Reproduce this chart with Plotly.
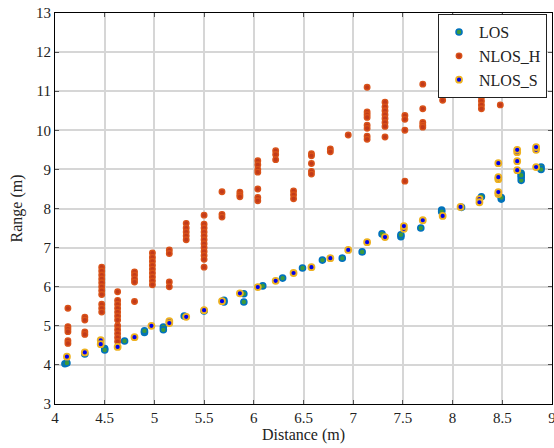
import plotly.graph_objects as go

# LOS
los_x = [4.10, 4.12, 4.30, 4.50, 4.50, 4.70, 4.90, 4.90, 5.09, 5.09, 5.30, 5.50, 5.70, 5.70,
         5.90, 5.90, 6.09, 6.29, 6.49, 6.69, 6.89, 7.09, 7.29, 7.48, 7.48, 7.68, 7.89, 7.89,
         8.09, 8.29, 8.49, 8.49, 8.69, 8.69, 8.69, 8.69, 8.89, 8.89]
los_y = [4.03, 4.05, 4.28, 4.42, 4.38, 4.61, 4.83, 4.87, 4.97, 4.90, 5.25, 5.38, 5.61, 5.65,
         5.82, 5.61, 6.02, 6.22, 6.48, 6.68, 6.73, 6.89, 7.35, 7.28, 7.33, 7.50, 7.96, 7.92,
         8.03, 8.30, 8.24, 8.28, 8.90, 8.80, 8.72, 8.85, 9.06, 9.00]

# NLOS_H
nlosh_x = ([4.13] * 6 + [4.30] * 4 + [4.47] * 11 + [4.63] * 12 + [4.80] * 5 + [4.98] * 9 +
           [5.15] * 4 + [5.32] * 5 + [5.50] * 12 + [5.68] * 3 + [5.86] * 3 + [6.04] * 7 +
           [6.22] * 3 + [6.40] * 3 + [6.58] * 5 + [6.77] * 2 + [6.95] * 1 + [7.14] * 8 +
           [7.32] * 8 + [7.52] * 4 + [7.70] * 5 + [7.90] * 4 + [8.29] * 7 + [8.48] * 3 + [8.87] * 1)
nlosh_y = ([5.45, 4.98, 4.92, 4.85, 4.62, 4.55] +
           [5.22, 5.15, 4.84, 4.78] +
           [6.50, 6.40, 6.30, 6.20, 6.10, 6.00, 5.90, 5.80, 5.55, 5.45, 5.35] +
           [5.87, 5.65, 5.55, 5.45, 5.35, 5.25, 5.15, 5.00, 4.90, 4.80, 4.70, 4.60] +
           [6.38, 6.30, 6.20, 6.12, 5.62] +
           [6.86, 6.75, 6.65, 6.55, 6.45, 6.35, 6.25, 6.15, 6.05] +
           [6.94, 6.85, 6.12, 6.00] +
           [7.62, 7.50, 7.40, 7.30, 7.20] +
           [7.83, 7.60, 7.50, 7.40, 7.30, 7.20, 7.10, 7.00, 6.90, 6.80, 6.70, 6.50] +
           [8.43, 7.85, 7.78] +
           [8.42, 8.35, 8.30] +
           [9.22, 9.12, 9.00, 8.93, 8.50, 8.28, 8.20] +
           [9.48, 9.38, 9.25] +
           [8.45, 8.35, 8.25] +
           [9.40, 9.35, 9.15, 8.95, 8.88] +
           [9.52, 9.45] +
           [9.88] +
           [11.10, 10.47, 10.40, 10.33, 10.13, 10.05, 9.85, 9.77] +
           [10.72, 10.60, 10.50, 10.40, 10.30, 10.20, 10.10, 9.83] +
           [10.38, 10.28, 10.00, 8.70] +
           [11.18, 10.55, 10.20, 10.13, 10.08] +
           [11.30, 11.20, 10.90, 10.77] +
           [11.15, 11.05, 10.95, 10.85, 10.75, 10.65, 10.55] +
           [11.20, 10.98, 10.65] +
           [11.08])

# NLOS_S
nloss_x = [4.12, 4.30, 4.46, 4.46, 4.63, 4.80, 4.97, 5.15, 5.15, 5.32, 5.50, 5.68, 5.86,
           6.04, 6.22, 6.40, 6.58, 6.77, 6.95, 7.14, 7.32, 7.51, 7.51, 7.70, 7.90, 8.08,
           8.27, 8.27, 8.46, 8.46, 8.46, 8.46, 8.46, 8.65, 8.65, 8.65, 8.65, 8.84, 8.84, 8.84]
nloss_y = [4.21, 4.32, 4.63, 4.53, 4.46, 4.71, 5.00, 5.12, 5.07, 5.23, 5.40, 5.63, 5.83,
           5.99, 6.15, 6.35, 6.50, 6.73, 6.94, 7.14, 7.27, 7.48, 7.55, 7.70, 7.81, 8.04,
           8.24, 8.16, 8.37, 8.42, 8.75, 8.80, 9.16, 8.98, 9.21, 9.44, 9.50, 9.06, 9.50, 9.57]

x_ticks = [4, 4.5, 5, 5.5, 6, 6.5, 7, 7.5, 8, 8.5, 9]
x_tick_labels = ["4", "4.5", "5", "5.5", "6", "6.5", "7", "7.5", "8", "8.5", "9"]
y_ticks = list(range(3, 14))

font = "Liberation Serif"

fig = go.Figure()
fig.add_trace(go.Scatter(x=los_x, y=los_y, mode="markers", name="LOS",
                         marker=dict(size=6, color="#3E9A3A", line=dict(color="#0072BD", width=1.6))))
fig.add_trace(go.Scatter(x=nlosh_x, y=nlosh_y, mode="markers", name="NLOS_H",
                         marker=dict(size=5.5, color="#C23A1A", line=dict(color="#D95319", width=1.4))))
fig.add_trace(go.Scatter(x=nloss_x, y=nloss_y, mode="markers", name="NLOS_S",
                         marker=dict(size=6, color="#0000EE", line=dict(color="#EDB120", width=1.8))))

axis_common = dict(showline=True, linecolor="black", linewidth=1, mirror="allticks",
                   ticks="inside", ticklen=4, tickcolor="#555555",
                   showgrid=True, gridcolor="#d6d6d6", gridwidth=1.5, zeroline=False,
                   ticklabeloverflow="allow", automargin=False,
                   tickfont=dict(family=font, size=15, color="#222"))

fig.update_layout(
    width=554, height=448,
    margin=dict(l=55, r=2, t=13, b=44),
    paper_bgcolor="white", plot_bgcolor="white",
    font=dict(family=font, size=15, color="#222"),
    xaxis=dict(range=[4, 9], tickvals=x_ticks, ticktext=x_tick_labels,
               title=dict(text="Distance (m)", font=dict(family=font, size=16), standoff=3),
               **axis_common),
    yaxis=dict(range=[3, 13], tickvals=y_ticks,
               title=dict(text="Range (m)", font=dict(family=font, size=16), standoff=9),
               **axis_common),
    legend=dict(x=0.99, y=0.997, xanchor="right", yanchor="top",
                bgcolor="white", bordercolor="#222", borderwidth=1,
                font=dict(family=font, size=16), itemwidth=30,
                tracegroupgap=0),
    showlegend=True,
)

fig.write_html("out.html", config={"displayModeBar": False},
               post_script="document.body.style.margin='0';document.body.style.overflow='hidden';")
